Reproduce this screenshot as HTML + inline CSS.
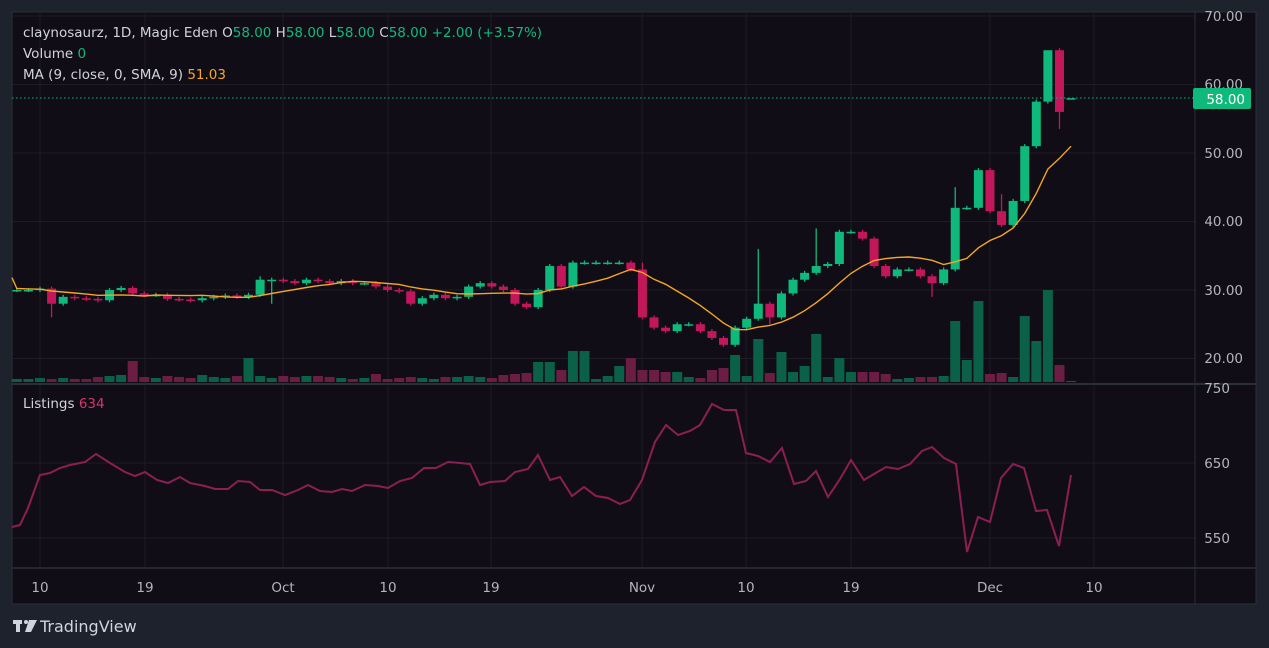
<!DOCTYPE html><html><head><meta charset="utf-8"><style>
html,body{margin:0;padding:0;background:#1e222d;width:1269px;height:648px;overflow:hidden;font-family:"DejaVu Sans","Liberation Sans",sans-serif}
svg{position:absolute;left:0;top:0}
</style></head><body>
<svg id="s" width="1269" height="648" xmlns="http://www.w3.org/2000/svg" font-family="DejaVu Sans, Liberation Sans, sans-serif"></svg>
<script>
const S=document.getElementById('s');let h='';
const G='#0fb97c',R='#c2185b',GV='#0b6048',RV='#6b1d43';
h+='<rect x="12" y="12" width="1244" height="592" fill="#110d16" stroke="#2a2e39"/>';
const X=i=>40+(i-2)*11.585;
const Y=p=>16+(70-p)*6.85;
const vx=[40,145,283,388,491,642,746,851,990,1094];
vx.forEach(x=>h+=`<line x1="${x}" y1="12" x2="${x}" y2="568" stroke="#1f1b27"/>`);
[70,60,50,40,30,20].forEach(p=>h+=`<line x1="12" y1="${Y(p)}" x2="1195" y2="${Y(p)}" stroke="#1f1b27"/>`);
[463,538].forEach(y=>h+=`<line x1="12" y1="${y}" x2="1195" y2="${y}" stroke="#1f1b27"/>`);
const c=[30,30,30.2,28,29,28.8,28.7,28.5,30,30.3,29.5,29.3,29.3,28.7,28.6,28.5,28.8,29,29.2,29,29.3,31.5,31.5,31.3,31,31.5,31.3,31,31.3,31,31,30.5,30,29.8,28,28.8,29.3,28.8,29,30.5,31,30.5,30,28,27.5,30,33.5,30.5,34,34,34,34,34,33,26,24.5,24,25,25,24,23,22,24.5,25.8,28,26,29.5,31.5,32.5,33.5,33.8,38.5,38.5,37.5,33.5,32,33,33,32,31,33,42,42,47.5,41.5,39.5,43,51,57.5,65,56,58];
const hi={64:36,69:39,81:45,21:32,54:34,85:44,89:65,91:58};const lo={3:26,79:29,90:53.5,65:25,22:28,91:58};
const vol={0:3,1:3,2:4,3:3,4:4,5:3,6:3,7:5,8:6,9:7,10:21,11:5,12:4,13:6,14:5,15:4,16:7,17:5,18:4,19:6,20:24,21:6,22:4,23:6,24:5,25:6,26:6,27:5,28:4,29:3,30:4,31:8,32:3,33:4,34:5,35:4,36:3,37:5,38:5,39:6,40:5,41:4,42:7,43:8,44:9,45:20,46:20,47:12,48:31,49:31,50:3,51:6,52:16,53:24,54:12,55:12,56:10,57:10,58:5,59:4,60:12,61:14,62:27,63:6,64:43,65:9,66:30,67:10,68:16,69:48,70:5,71:24,72:10,73:10,74:10,75:8,76:3,77:4,78:5,79:5,80:6,81:61,82:22,83:81,84:8,85:9,86:5,87:66,88:41,89:92,90:17,91:1};
const op=i=>i==91?58:(i?c[i-1]:c[0]);
for(let i=0;i<c.length;i++){const o=op(i);const up=c[i]>=o;const v=vol[i]||3;h+=`<rect x="${X(i)-5}" y="${382-v}" width="10" height="${v}" fill="${up?GV:RV}"/>`;}
for(let i=0;i<c.length;i++){const o=op(i);const cl=c[i];const up=cl>=o;const col=up?G:R;
const H=hi[i]!==undefined?hi[i]:Math.max(o,cl)+0.3,L=lo[i]!==undefined?lo[i]:Math.min(o,cl)-0.3;const x=X(i);
if(H>L)h+=`<line x1="${x}" y1="${Y(H)}" x2="${x}" y2="${Y(L)}" stroke="${col}" stroke-width="1.3"/>`;
const t=Y(Math.max(o,cl)),b=Y(Math.min(o,cl));h+=`<rect x="${x-4.5}" y="${t}" width="9" height="${Math.max(1.5,b-t)}" fill="${col}"/>`;}
let pts=[];const pre=[30.6,30.5,30.4,30.3,30.2,30.1,30.0,29.9];const all=pre.concat(c);
for(let i=0;i<c.length;i++){let s=0;for(let k=0;k<9;k++)s+=all[i+8-k];pts.push(X(i)+','+Y(s/9).toFixed(1));}
h+=`<polyline points="12,${Y(31.8)} ${pts.join(' ')}" fill="none" stroke="#f5a623" stroke-width="1.4"/>`;
h+=`<line x1="12" y1="98" x2="1195" y2="98" stroke="${G}" stroke-dasharray="1.5,2.5"/>`;
h+='<line x1="12" y1="384" x2="1256" y2="384" stroke="#2a2e39" stroke-width="2"/>';
h+='<line x1="12" y1="568" x2="1256" y2="568" stroke="#2a2e39" stroke-width="1.5"/>';
h+='<line x1="1195" y1="12" x2="1195" y2="604" stroke="#2a2e39"/>';
const L2=[[12,527],[20,525],[28,508],[40,475],[50,473],[60,468],[70,465],[85,462],[96,454],[110,463],[125,472],[135,476],[145,472],[157,480],[168,483],[180,477],[190,483],[205,486],[215,489],[228,489],[238,481],[250,482],[260,490],[272,490],[285,495],[298,490],[308,485],[320,491],[332,492],[342,489],[352,491],[365,485],[378,486],[388,488],[400,481],[412,478],[424,468],[436,468],[448,462],[460,463],[470,464],[480,485],[490,482],[505,481],[515,472],[528,469],[538,455],[550,480],[560,477],[572,496],[584,487],[596,496],[608,498],[620,504],[630,500],[642,480],[655,442],[666,425],[678,435],[690,431],[700,425],[712,404],[724,410],[736,410],[746,453],[758,456],[770,462],[782,448],[794,484],[806,481],[816,471],[828,497],[840,479],[851,460],[864,480],[874,474],[886,467],[898,469],[910,464],[922,451],[932,447],[944,458],[956,464],[967,552],[978,517],[990,522],[1001,478],[1013,464],[1024,468],[1036,511],[1047,510],[1059,546],[1071,475]];
h+=`<polyline points="${L2.map(p=>p.join(',')).join(' ')}" fill="none" stroke="#8c1f52" stroke-width="2"/>`;
const T=(x,y,s,col,anchor,size)=>h+=`<text x="${x}" y="${y}" fill="${col}" font-size="${size||13.5}" text-anchor="${anchor||'start'}">${s}</text>`;
[[70,21],[60,89],[50,158],[40,226],[30,295],[20,363]].forEach(a=>T(1243,a[1],a[0].toFixed(2),'#b2b5be','end'));
T(1230,393,'750','#b2b5be','end');T(1230,468,'650','#b2b5be','end');T(1230,543,'550','#b2b5be','end');
h+=`<rect x="1193" y="88" width="58" height="21" rx="2" fill="#0fb97c"/>`;T(1245,104,'58.00','#fff','end');
[[40,'10'],[145,'19'],[283,'Oct'],[388,'10'],[491,'19'],[642,'Nov'],[746,'10'],[851,'19'],[990,'Dec'],[1094,'10']].forEach(a=>T(a[0],592,a[1],'#b2b5be','middle'));
h+=`<text x="23" y="37" font-size="13.5" fill="#d1d4dc">claynosaurz, 1D, Magic Eden  O<tspan fill="${G}">58.00</tspan>  H<tspan fill="${G}">58.00</tspan>  L<tspan fill="${G}">58.00</tspan>  C<tspan fill="${G}">58.00</tspan>  <tspan fill="${G}">+2.00 (+3.57%)</tspan></text>`;
h+=`<text x="23" y="58" font-size="13.5" fill="#d1d4dc">Volume  <tspan fill="${G}">0</tspan></text>`;
h+=`<text x="23" y="79" font-size="13.5" fill="#d1d4dc">MA (9, close, 0, SMA, 9)  <tspan fill="#f5a623">51.03</tspan></text>`;
h+=`<text x="23" y="408" font-size="13.5" fill="#d1d4dc">Listings  <tspan fill="#d2386c">634</tspan></text>`;
h+='<rect x="13" y="620" width="9" height="4" fill="#d1d4dc"/><rect x="16" y="620" width="4" height="12" fill="#d1d4dc"/><circle cx="26" cy="622" r="2" fill="#d1d4dc"/><polygon points="29,620 37,620 31,632 25,632" fill="#d1d4dc"/>';
T(40,632,'TradingView','#d1d4dc','start',16);
S.innerHTML=h;
</script></body></html>
